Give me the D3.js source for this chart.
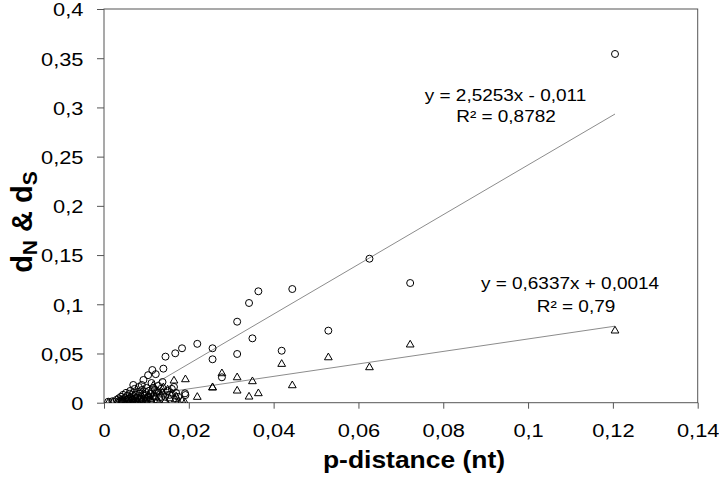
<!DOCTYPE html>
<html><head><meta charset="utf-8">
<script src="https://cdn.jsdelivr.net/npm/d3@7"></script>
<style>
html,body{margin:0;padding:0;background:#fff;}
text{font-family:"Liberation Sans",Arial,sans-serif;fill:#000;}
</style></head>
<body><div id="chart"></div>
<script>
// p-distance (x) for each sequence pair
const pDistance = [
 0.1205,0.0722,0.0626,0.0529,0.0444,0.0419,0.0364,0.0350,0.0342,0.0314,0.0314,0.0278,0.0256,0.0256,
 0.0220,0.0192,0.0184,0.0168,0.0165,0.0145,0.0140,0.0138,0.0122,0.0114,0.0116,0.0104,0.0093,0.0089,
 0.0069,0.0144,0.0191,
 0.0010,0.0020,0.0030,0.0035,0.0040,0.0042,0.0045,0.0050,0.0052,0.0055,0.0058,0.0060,0.0062,0.0065,
 0.0068,0.0070,0.0072,0.0075,0.0078,0.0080,0.0082,0.0085,0.0088,0.0090,0.0095,0.0098,0.0100,0.0102,
 0.0106,0.0110,0.0112,0.0118,0.0120,0.0125,0.0128,0.0130,0.0134,0.0150,0.0155,0.0160,0.0170,0.0175
];
// dS (circles)
const dS = [
 0.3543,0.1216,0.1463,0.0732,0.1155,0.0528,0.1132,0.0654,0.1013,0.0823,0.0495,0.0258,0.0553,0.0441,
 0.0598,0.0078,0.0553,0.0502,0.0160,0.0468,0.0346,0.0210,0.0290,0.0332,0.0150,0.0280,0.0231,0.0180,
 0.0180,0.0061,0.0095,
 0.0010,0.0015,0.0030,0.0045,0.0060,0.0030,0.0080,0.0050,0.0100,0.0070,0.0040,0.0090,0.0120,0.0060,
 0.0030,0.0100,0.0140,0.0080,0.0050,0.0110,0.0160,0.0090,0.0040,0.0130,0.0070,0.0110,0.0150,0.0050,
 0.0120,0.0090,0.0200,0.0060,0.0130,0.0100,0.0170,0.0050,0.0140,0.0120,0.0080,0.0140,0.0100,0.0060
];
// dN (triangles)
const dN = [
 0.0739,0.0597,0.0366,0.0467,0.0183,0.0400,0.0102,0.0224,0.0068,0.0129,0.0264,0.0305,0.0163,0.0160,
 0.0065,0.0244,0.0027,0.0041,0.0231,0.0027,0.0163,0.0110,0.0060,0.0010,0.0180,0.0080,0.0050,0.0030,
 0.0040,0.0020,0.0010,
 0.0005,0.0008,0.0010,0.0020,0.0015,0.0030,0.0025,0.0010,0.0035,0.0020,0.0045,0.0015,0.0030,0.0050,
 0.0008,0.0040,0.0020,0.0060,0.0030,0.0010,0.0050,0.0070,0.0020,0.0040,0.0090,0.0030,0.0060,0.0010,
 0.0080,0.0045,0.0025,0.0100,0.0070,0.0030,0.0120,0.0010,0.0090,0.0140,0.0050,0.0100,0.0070,0.0020
];
const xTickValues = [0,0.02,0.04,0.06,0.08,0.1,0.12,0.14];
const xTickLabels = ["0","0,02","0,04","0,06","0,08","0,1","0,12","0,14"];
const yTickValues = [0,0.05,0.1,0.15,0.2,0.25,0.3,0.35,0.4];
const yTickLabels = ["0","0,05","0,1","0,15","0,2","0,25","0,3","0,35","0,4"];
const trendS = {slope:2.5253, intercept:-0.011, eq:"y = 2,5253x - 0,011", r2:"R² = 0,8782"};
const trendN = {slope:0.6337, intercept:0.0014, eq:"y = 0,6337x + 0,0014", r2:"R² = 0,79"};

const W=719,H=479, L=104, R=697.7, T=9, B=402.7, SX=1.15;
const svg=d3.select("#chart").append("svg").attr("width",W).attr("height",H);
svg.append("rect").attr("width",W).attr("height",H).attr("fill","#fff");
const x=d3.scaleLinear().domain([0,0.14]).range([L,R]);
const y=d3.scaleLinear().domain([0,0.4]).range([B,T]);

svg.append("defs").append("clipPath").attr("id","clip").append("rect")
  .attr("x",L).attr("y",T).attr("width",R-L).attr("height",B-T);

// axes
const gx=svg.append("g").attr("transform",`translate(0,${B})`)
  .call(d3.axisBottom(x).tickValues(xTickValues).tickSize(6).tickFormat((d,i)=>xTickLabels[i]));
const gy=svg.append("g").attr("transform",`translate(${L},0)`)
  .call(d3.axisLeft(y).tickValues(yTickValues).tickSize(7).tickFormat((d,i)=>yTickLabels[i]));
[gx,gy].forEach(g=>{
  g.select(".domain").remove();
  g.selectAll(".tick line").attr("stroke","#555").attr("stroke-width",1);
});
gx.selectAll(".tick text").attr("y",0).attr("dy",0).attr("font-size",19)
  .attr("transform",`translate(0,34.5) scale(${SX},1)`);
gy.selectAll(".tick text").attr("x",0).attr("dy",0).attr("font-size",19)
  .attr("transform",`translate(-20.5,6.8) scale(${SX},1)`);
svg.selectAll(".tick text").attr("font-family","Liberation Sans, Arial, sans-serif").attr("fill","#000");

// frame
svg.append("rect").attr("x",L).attr("y",T).attr("width",R-L).attr("height",B-T)
  .attr("fill","none").attr("stroke","#555").attr("stroke-width",1);

// trend lines
const xmin=d3.min(pDistance), xmax=d3.max(pDistance);
const plot=svg.append("g").attr("clip-path","url(#clip)");
[trendS,trendN].forEach(t=>{
  plot.append("line").attr("x1",x(xmin)).attr("y1",y(t.slope*xmin+t.intercept))
    .attr("x2",x(xmax)).attr("y2",y(t.slope*xmax+t.intercept))
    .attr("stroke","#8c8c8c").attr("stroke-width",1);
});

// markers
const tri=d3.symbol().type(d3.symbolTriangle).size(26);
plot.selectAll(".tri").data(pDistance.map((p,i)=>[p,dN[i]])).join("path")
  .attr("d",tri).attr("transform",d=>`translate(${x(d[0])},${y(d[1])+0.8})`)
  .attr("fill","none").attr("stroke","#000").attr("stroke-width",1);
plot.selectAll(".cir").data(pDistance.map((p,i)=>[p,dS[i]])).join("circle")
  .attr("cx",d=>x(d[0])).attr("cy",d=>y(d[1])).attr("r",3.5)
  .attr("fill","none").attr("stroke","#000").attr("stroke-width",1);

// equation labels
function label(txt,cx,by,size,bold){
  svg.append("text").attr("text-anchor","middle").attr("font-size",size)
    .attr("font-weight",bold?"bold":"normal")
    .attr("transform",`translate(${cx},${by}) scale(${SX},1)`).text(txt);
}
label(trendS.eq,505.5,101,16.5);
label(trendS.r2,506,122,16.5);
label(trendN.eq,570,289,16.5);
label(trendN.r2,576,312,16.5);

// axis titles
label("p-distance (nt)",414,468,23,true);
const yt=svg.append("text").attr("text-anchor","middle").attr("font-size",29).attr("font-weight","bold")
  .attr("transform",`translate(32,222) rotate(-90)`);
yt.append("tspan").text("d");
yt.append("tspan").attr("font-size",21).attr("dy",5).text("N");
yt.append("tspan").attr("dy",-5).text(" & d");
yt.append("tspan").attr("font-size",21).attr("dy",5).text("S");
</script></body></html>
